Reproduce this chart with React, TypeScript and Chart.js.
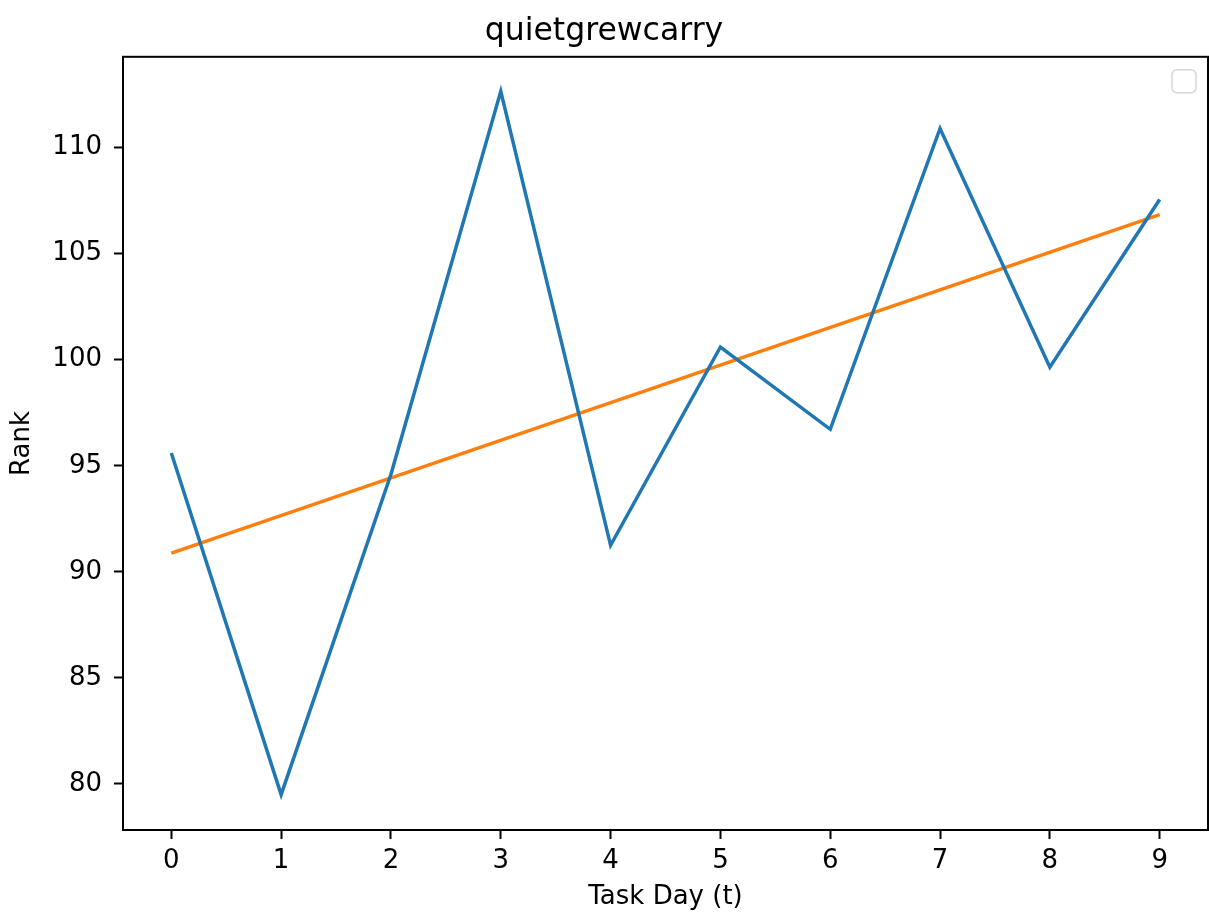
import React, { useEffect, useRef } from "react";
import { Chart, registerables } from "chart.js";

Chart.register(...registerables);

const chartTitle = "quietgrewcarry";
const xLabel = "Task Day (t)";
const yLabel = "Rank";

const days = [0, 1, 2, 3, 4, 5, 6, 7, 8, 9];
const rankValues = [95.6, 79.5, 94.6, 112.65, 91.25, 100.6, 96.72, 110.9, 99.65, 107.55];
const trendDays = [0, 9];
const trendValues = [90.88, 106.84];

const xTicks = [0, 1, 2, 3, 4, 5, 6, 7, 8, 9];
const yTicks = [80, 85, 90, 95, 100, 105, 110];

const FONT = "'DejaVu Sans', sans-serif";

const framePlugin = {
  id: "frame",
  afterDatasetsDraw(chart: any) {
    const { ctx, chartArea } = chart;
    ctx.save();
    ctx.strokeStyle = "#000";
    ctx.lineWidth = 2;
    ctx.strokeRect(chartArea.left, chartArea.top, chartArea.right - chartArea.left, chartArea.bottom - chartArea.top);
    // empty legend frame (matplotlib draws an empty legend box)
    const w = 24, h = 23;
    const x = chartArea.right - 12 - w;
    const y = chartArea.top + 13;
    ctx.strokeStyle = "#d6d6d6";
    ctx.lineWidth = 1.5;
    ctx.fillStyle = "rgba(255,255,255,0.8)";
    ctx.beginPath();
    (ctx as any).roundRect(x, y, w, h, 5);
    ctx.fill();
    ctx.stroke();
    ctx.restore();
  },
};

export default function App() {
  const ref = useRef<HTMLCanvasElement | null>(null);

  useEffect(() => {
    if (!ref.current) return;
    const chart = new Chart(ref.current, {
      type: "line",
      data: {
        datasets: [
          {
            data: days.map((d, i) => ({ x: d, y: rankValues[i] })),
            borderColor: "#1f77b4",
            borderWidth: 3.5,
            pointRadius: 0,
            tension: 0,
          },
          {
            data: trendDays.map((d, i) => ({ x: d, y: trendValues[i] })),
            borderColor: "#ff7f0e",
            borderWidth: 3.5,
            pointRadius: 0,
            tension: 0,
          },
        ],
      },
      options: {
        animation: false,
        responsive: false,
        maintainAspectRatio: false,
        layout: { padding: { left: 0, right: 1, top: 0, bottom: 0 } },
        plugins: {
          legend: { display: false },
          tooltip: { enabled: false },
          title: {
            display: true,
            text: chartTitle,
            color: "#000",
            font: { family: FONT, size: 31.5, weight: "normal" },
            padding: { top: 13, bottom: 6 },
          },
        },
        scales: {
          x: {
            type: "linear",
            min: -0.44,
            max: 9.44,
            afterFit: (scale: any) => {
              scale.height = 89;
            },
            afterBuildTicks: (scale: any) => {
              scale.ticks = xTicks.map((v) => ({ value: v }));
            },
            ticks: {
              color: "#000",
              font: { family: FONT, size: 26 },
              padding: 7,
              maxRotation: 0,
              autoSkip: false,
            },
            grid: {
              display: true,
              drawOnChartArea: false,
              drawTicks: true,
              tickLength: 9,
              tickWidth: 2,
              tickColor: "#000",
            },
            border: { display: false },
            title: {
              display: true,
              text: xLabel,
              color: "#000",
              font: { family: FONT, size: 26 },
              padding: { top: 0, bottom: 6 },
            },
          },
          y: {
            type: "linear",
            min: 77.83,
            max: 114.28,
            afterFit: (scale: any) => {
              scale.width = 123;
            },
            afterBuildTicks: (scale: any) => {
              scale.ticks = yTicks.map((v) => ({ value: v }));
            },
            ticks: {
              color: "#000",
              font: { family: FONT, size: 26 },
              padding: 12,
              autoSkip: false,
            },
            grid: {
              display: true,
              drawOnChartArea: false,
              drawTicks: true,
              tickLength: 9,
              tickWidth: 2,
              tickColor: "#000",
            },
            border: { display: false },
            title: {
              display: true,
              text: yLabel,
              color: "#000",
              font: { family: FONT, size: 26 },
              padding: { top: 7, bottom: 0 },
            },
          },
        },
      },
      plugins: [framePlugin],
    } as any);
    return () => chart.destroy();
  }, []);

  return (
    <div style={{ position: "absolute", left: 0, top: 0, width: 1209, height: 919, background: "#fff" }}>
      <canvas ref={ref} width={1209} height={919} style={{ width: 1209, height: 919 }} />
    </div>
  );
}
